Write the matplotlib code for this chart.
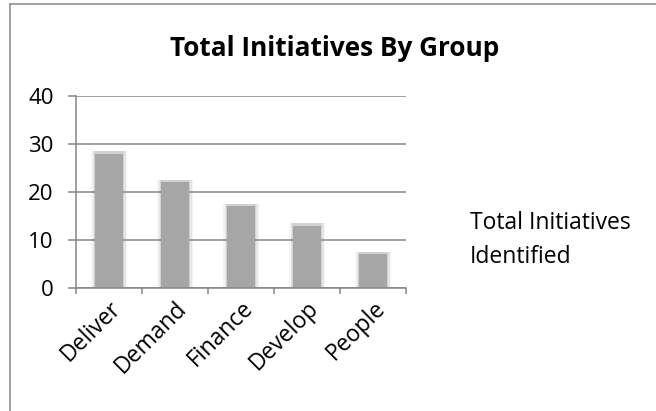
import matplotlib
matplotlib.use("Agg")
import matplotlib.pyplot as plt
from matplotlib.lines import Line2D

categories = ["Deliver", "Demand", "Finance", "Develop", "People"]
values = [28, 22, 17, 13, 7]
yticks = [0, 10, 20, 30, 40]
title = "Total Initiatives By Group"
series_name = "Total Initiatives\nIdentified"

W, H = 656, 411
fig = plt.figure(figsize=(W / 100, H / 100), dpi=100)
fig.patch.set_facecolor("white")

font = ["Open Sans", "DejaVu Sans"]
grey = "#868686"
lw = 1.1

ax = fig.add_axes([76 / W, 1 - 288 / H, (406 - 76) / W, (288 - 96) / H])
x = list(range(len(categories)))

# soft glow around bars
for w, a in [(0.54, 0.10), (0.50, 0.16), (0.46, 0.25)]:
    ax.bar(x, [v + 0.6 for v in values], width=w, color="#9a9a9a", alpha=a, zorder=2, linewidth=0)
ax.bar(x, values, width=0.42, color="#a6a6a6", zorder=3, linewidth=0)

ax.set_xlim(-0.5, len(categories) - 0.5)
ax.set_ylim(0, 40)
ax.set_yticks(yticks)
ax.set_yticklabels([str(t) for t in yticks], fontsize=16, family=font)
ax.yaxis.grid(True, color=grey, linewidth=lw, zorder=4)
ax.set_axisbelow(False)
ax.tick_params(axis="y", length=6, width=lw, color=grey, pad=10)

ax.set_xticks(x)
ax.set_xticklabels(categories, rotation=45, ha="right", rotation_mode="anchor",
                   fontsize=16.5, family=font)
ax.tick_params(axis="x", which="major", length=0, pad=6)
ax.set_xticks([i - 0.5 for i in range(len(categories) + 1)], minor=True)
ax.tick_params(axis="x", which="minor", length=4.5, width=lw, color=grey)

for s in ["top", "right"]:
    ax.spines[s].set_visible(False)
for s in ["left", "bottom"]:
    ax.spines[s].set_color(grey)
    ax.spines[s].set_linewidth(lw)
    ax.spines[s].set_zorder(5)

fig.text(335 / W, 1 - 48 / H, title, ha="center", va="center", fontsize=18.8,
         fontweight="bold", family=font)
fig.text(470 / W, 1 - 240 / H, series_name, ha="left", va="center", fontsize=16.5,
         family=font, linespacing=1.6)

# chart border (left & top edges visible)
fig.add_artist(Line2D([9.5 / W, 9.5 / W], [0, 1 - 4.5 / H], transform=fig.transFigure,
                      color=grey, linewidth=lw))
fig.add_artist(Line2D([9.5 / W, 1], [1 - 4.5 / H, 1 - 4.5 / H], transform=fig.transFigure,
                      color=grey, linewidth=lw))

fig.savefig("out.png", dpi=100)
